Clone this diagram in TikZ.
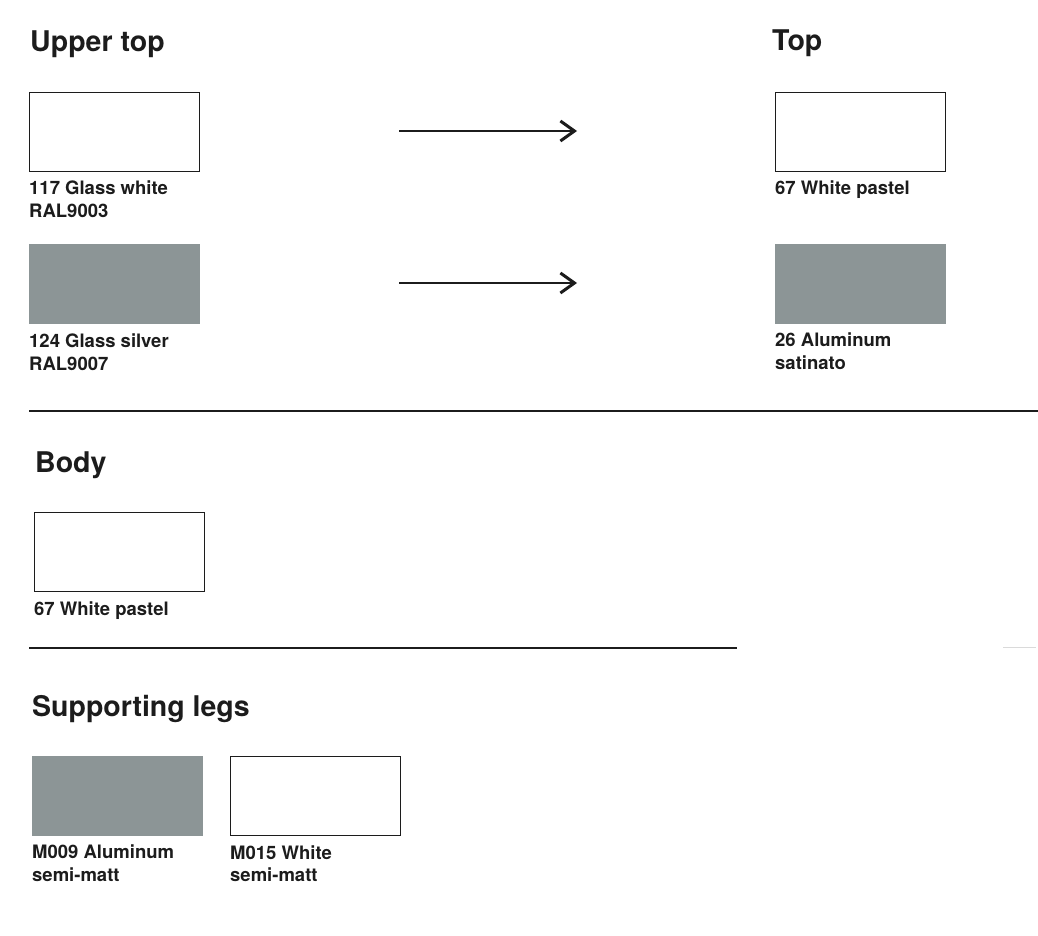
\documentclass[tikz,border=0pt]{standalone}
\usepackage{fontspec}
\setmainfont{TeX Gyre Heros}
\usetikzlibrary{arrows.meta}
\definecolor{ink}{HTML}{1C1C1C}
\definecolor{alu}{HTML}{8C9596}
\definecolor{faint}{HTML}{DADADA}
\tikzset{
  heading/.style={anchor=base west, inner sep=0pt, text=ink, font=\bfseries\fontsize{28.5}{34}\selectfont},
  lab/.style={anchor=base west, inner sep=0pt, text=ink, font=\bfseries\fontsize{18.5}{23}\selectfont},
  whitebox/.style={anchor=north west, draw=ink, line width=1.2pt, fill=white, minimum width=170pt, minimum height=79pt, inner sep=0pt, outer sep=0pt},
  greybox/.style={anchor=north west, draw=none, fill=alu, minimum width=171pt, minimum height=80pt, inner sep=0pt, outer sep=0pt},
  rule/.style={draw=ink, line width=1.3pt},
  arr/.style={draw=ink, line width=2.2pt, -{Straight Barb[length=14pt,width=20pt,line width=3pt]}}
}
\begin{document}
\begin{tikzpicture}[x=1pt,y=-1pt]
\useasboundingbox (0,0) rectangle (1038,936);
% Upper top / Top
\node[heading] (hUpper) at (30,52) {Upper top};
\node[heading] (hTop) at (772,51) {Top};
\node[whitebox] (b117) at (29.5,92.5) {};
\node[lab] (l117a) at (29,195) {117 Glass white};
\node[lab] (l117b) at (29,218) {RAL9003};
\node[whitebox] (b67) at (775.5,92.5) {};
\node[lab] (l67) at (775,195) {67 White pastel};
\node[greybox] (b124) at (29,244) {};
\node[lab] (l124a) at (29,347) {124 Glass silver};
\node[lab] (l124b) at (29,370) {RAL9007};
\node[greybox] (b26) at (775,244) {};
\node[lab] (l26a) at (775,346) {26 Aluminum};
\node[lab] (l26b) at (775,369) {satinato};
\coordinate (a1s) at (399,131);
\coordinate (a1e) at (577,131);
\coordinate (a2s) at (399,283);
\coordinate (a2e) at (577,283);
\draw[arr] (a1s) -- (a1e);
\draw[arr] (a2s) -- (a2e);
\coordinate (r1s) at (29,411);
\coordinate (r1e) at (1038,411);
\draw[rule] (r1s) -- (r1e);
% Body
\node[heading] (hBody) at (35,472) {Body};
\node[whitebox] (bBody) at (34.5,512.5) {};
\node[lab] (lBody) at (34,615) {67 White pastel};
\coordinate (r2s) at (29,648);
\coordinate (r2e) at (737,648);
\draw[rule] (r2s) -- (r2e);
\coordinate (r3s) at (1003,647);
\coordinate (r3e) at (1036,647);
\draw[draw=faint, line width=1pt] (r3s) -- (r3e);
% Supporting legs
\node[heading] (hLegs) at (32,716) {Supporting legs};
\node[greybox] (bM009) at (32,756) {};
\node[lab] (lM009a) at (32,858) {M009 Aluminum};
\node[lab] (lM009b) at (32,881) {semi-matt};
\node[whitebox] (bM015) at (230.5,756.5) {};
\node[lab] (lM015a) at (230,859) {M015 White};
\node[lab] (lM015b) at (230,881) {semi-matt};
\end{tikzpicture}
\end{document}
